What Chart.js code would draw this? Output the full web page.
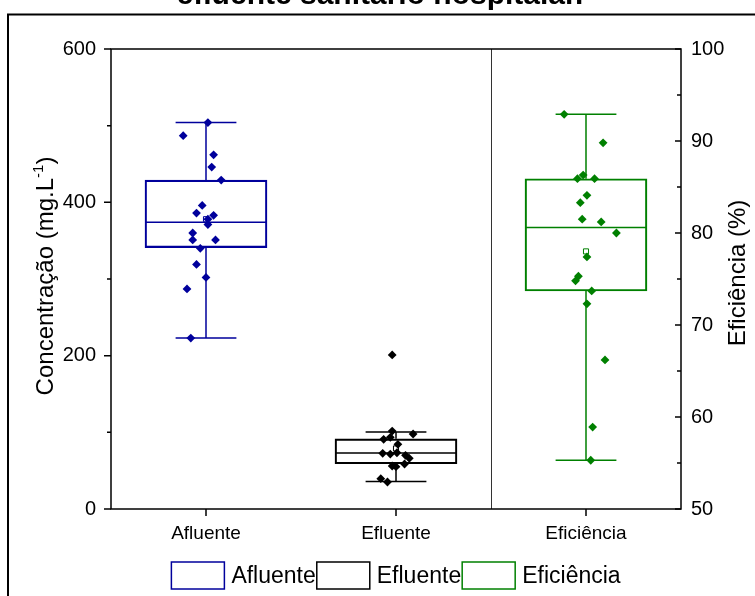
<!DOCTYPE html>
<html>
<head>
<meta charset="utf-8">
<script src="https://cdn.jsdelivr.net/npm/chart.js@4.4.0/dist/chart.umd.min.js"></script>
<style>
    html, body { margin: 0; padding: 0; background: #fff; }
    #wrap { position: relative; width: 755px; height: 596px; overflow: hidden; }
</style>
</head>
<body>
<div id="wrap"><canvas id="chart" width="755" height="596"></canvas></div>
<script>
// ─── DATA ────────────────────────────────────────────────────
const groups      = ['Afluente', 'Efluente', 'Eficiência'];
const groupColors = ['#00009c', '#000000', '#008000'];

// individual samples (value) and their horizontal jitter (category units)
const afluenteValues   = [504, 487, 462, 446, 429, 396, 386, 383, 378, 371, 360, 351, 351, 340, 319, 302, 287, 223];
const afluenteJitter   = [0.01, -0.12, 0.04, 0.03, 0.08, -0.02, -0.05, 0.04, 0.01, 0.01, -0.07, -0.07, 0.05, -0.03, -0.05, 0.0, -0.10, -0.08];
const efluenteValues   = [201, 101.7, 97.8, 90.9, 93.5, 84.4, 72.6, 71.7, 73.4, 70, 66.1, 58.7, 56.1, 55.2, 39.5, 35.2];
const efluenteJitter   = [-0.02, -0.02, 0.09, -0.065, -0.03, 0.01, -0.07, -0.03, 0.005, 0.05, 0.07, 0.045, -0.02, 0.0, -0.08, -0.045];
const eficienciaValues = [92.9, 89.8, 86.3, 85.9, 85.9, 84.1, 83.3, 81.5, 81.2, 80.0, 77.4, 75.3, 74.8, 73.7, 72.3, 66.2, 58.9, 55.3];
const eficienciaJitter = [-0.115, 0.09, -0.015, -0.045, 0.045, 0.005, -0.03, -0.02, 0.08, 0.16, 0.005, -0.04, -0.055, 0.03, 0.005, 0.10, 0.035, 0.025];

// box statistics, one entry per group
const whiskerLow  = [223, 36, 55.3];
const quartile1   = [341, 59, 73.7];
const medians     = [374, 73, 80.6];
const quartile3   = [429, 91.5, 85.9];
const whiskerHigh = [504, 100.5, 92.9];
const means       = [378, 79, 78.0];

// axes
const leftRange  = [0, 600];
const rightRange = [50, 100];

// ─── HELPERS ─────────────────────────────────────────────────
const FONT = '"Liberation Sans", Arial, sans-serif';
const axisOf = i => (i === 2 ? 'y2' : 'y');
const BOX_HALF = 0.32;
const CAP_HALF = 0.16;

const samples = [
    [afluenteValues, afluenteJitter],
    [efluenteValues, efluenteJitter],
    [eficienciaValues, eficienciaJitter]
];

const pointDatasets = samples.map(([vals, jit], i) => ({
    type: 'scatter',
    label: groups[i] + ' pts',
    yAxisID: axisOf(i),
    order: 0,
    data: vals.map((v, k) => ({ x: i + jit[k], y: v })),
    pointStyle: 'rectRot',
    pointRadius: 4.4,
    backgroundColor: groupColors[i],
    borderWidth: 0
}));

const meanDatasets = groups.map((g, i) => ({
    type: 'scatter',
    label: g + ' mean',
    yAxisID: axisOf(i),
    order: 1,
    data: [{ x: i, y: means[i] }],
    pointStyle: 'rect',
    pointRadius: 3.6,
    backgroundColor: '#fff',
    borderColor: groupColors[i],
    borderWidth: 1
}));

const whiskerDatasets = groups.map((g, i) => ({
    type: 'line',
    label: g + ' whiskers',
    yAxisID: axisOf(i),
    order: 2,
    data: [
        { x: i, y: whiskerLow[i] }, { x: i, y: quartile1[i] }, { x: i, y: null },
        { x: i, y: quartile3[i] }, { x: i, y: whiskerHigh[i] }, { x: i, y: null },
        { x: i - CAP_HALF, y: whiskerLow[i] }, { x: i + CAP_HALF, y: whiskerLow[i] }, { x: i, y: null },
        { x: i - CAP_HALF, y: whiskerHigh[i] }, { x: i + CAP_HALF, y: whiskerHigh[i] }, { x: i, y: null },
        { x: i - BOX_HALF, y: medians[i] }, { x: i + BOX_HALF, y: medians[i] }
    ],
    borderColor: groupColors[i],
    borderWidth: 1.5,
    pointRadius: 0,
    spanGaps: false,
    tension: 0,
    fill: false
}));

const boxDatasets = groups.map((g, i) => ({
    type: 'bar',
    label: g,
    yAxisID: axisOf(i),
    order: 3,
    data: [{ x: i, y: [quartile1[i], quartile3[i]] }],
    backgroundColor: 'rgba(0,0,0,0)',
    borderColor: groupColors[i],
    borderWidth: 1.5,
    borderSkipped: false,
    barThickness: 122,
    grouped: false
}));

// ─── DECORATION PLUGIN ───────────────────────────────────────
const decor = {
    id: 'decor',
    afterDraw(chart) {
        const { ctx, chartArea: a, scales } = chart;
        ctx.save();
        ctx.strokeStyle = '#000';
        ctx.fillStyle = '#000';

        // divider between concentration and efficiency
        const xd = Math.round(scales.x.getPixelForValue(1.5)) + 0.5;
        ctx.lineWidth = 1;
        ctx.strokeStyle = '#333';
        ctx.beginPath(); ctx.moveTo(xd, a.top); ctx.lineTo(xd, a.bottom); ctx.stroke();

        // plot frame
        ctx.strokeStyle = '#000';
        ctx.lineWidth = 1.5;
        ctx.strokeRect(a.left, a.top, a.right - a.left, a.bottom - a.top);

        // tick marks
        ctx.beginPath();
        scales.y.ticks.forEach(t => {
            const py = scales.y.getPixelForValue(t.value);
            const len = t.value % 200 === 0 ? 7 : 4;
            ctx.moveTo(a.left - len, py); ctx.lineTo(a.left, py);
        });
        scales.y2.ticks.forEach(t => {
            const py = scales.y2.getPixelForValue(t.value);
            const len = t.value % 10 === 0 ? 6 : 4;
            ctx.moveTo(a.right - len, py); ctx.lineTo(a.right, py);
        });
        scales.x.ticks.forEach(t => {
            const px = scales.x.getPixelForValue(t.value);
            ctx.moveTo(px, a.bottom); ctx.lineTo(px, a.bottom + 7);
        });
        ctx.stroke();

        // axis titles
        const cy = (a.top + a.bottom) / 2 - 3;
        ctx.textBaseline = 'alphabetic';
        ctx.save();
        ctx.translate(53, cy);
        ctx.rotate(-Math.PI / 2);
        const main = 'Concentração (mg.L', sup = '-1', tail = ')';
        ctx.font = '24px ' + FONT;
        const wMain = ctx.measureText(main).width;
        const wTail = ctx.measureText(tail).width;
        ctx.font = '15px ' + FONT;
        const wSup = ctx.measureText(sup).width;
        let sx = -(wMain + wSup + wTail) / 2;
        ctx.textAlign = 'left';
        ctx.font = '24px ' + FONT;
        ctx.fillText(main, sx, 0);
        ctx.font = '15px ' + FONT;
        ctx.fillText(sup, sx + wMain, -10);
        ctx.font = '24px ' + FONT;
        ctx.fillText(tail, sx + wMain + wSup, 0);
        ctx.restore();

        ctx.save();
        ctx.translate(745, cy - 3);
        ctx.rotate(-Math.PI / 2);
        ctx.font = '24px ' + FONT;
        ctx.textAlign = 'center';
        ctx.fillText('Eficiência (%)', 0, 0);
        ctx.restore();

        // clipped title from the page above
        ctx.font = 'bold 30px ' + FONT;
        ctx.textAlign = 'center';
        ctx.fillText('efluente sanitário hospitalar.', 380, 4);

        // outer frame
        ctx.lineWidth = 2;
        ctx.strokeStyle = '#000';
        ctx.strokeRect(8, 14.5, 900, 900);

        // legend
        ctx.font = '23px ' + FONT;
        ctx.textAlign = 'left';
        ctx.textBaseline = 'middle';
        const bw = 53, bh = 27, gap = 7;
        const widths = groups.map(g => ctx.measureText(g).width);
        const total = widths.reduce((s, w) => s + bw + gap + w, 0) + (groups.length - 1);
        let lx = (a.left + a.right) / 2 - total / 2;
        const ly = 562;
        groups.forEach((g, i) => {
            ctx.lineWidth = 1.5;
            ctx.strokeStyle = groupColors[i];
            ctx.strokeRect(lx, ly, bw, bh);
            ctx.fillStyle = '#000';
            ctx.fillText(g, lx + bw + gap, ly + bh / 2 + 1);
            lx += bw + gap + widths[i] + 1;
        });
        ctx.restore();
    }
};

// ─── CHART ───────────────────────────────────────────────────
new Chart(document.getElementById('chart'), {
    type: 'scatter',
    data: { datasets: [...boxDatasets, ...whiskerDatasets, ...meanDatasets, ...pointDatasets] },
    options: {
        responsive: false,
        devicePixelRatio: 1,
        animation: false,
        events: [],
        layout: { padding: { top: 49, left: 0, right: 0, bottom: 0 } },
        plugins: { legend: { display: false }, tooltip: { enabled: false }, title: { display: false } },
        scales: {
            x: {
                type: 'linear',
                min: -0.5, max: 2.5,
                offset: false,
                afterBuildTicks: s => { s.ticks = groups.map((g, i) => ({ value: i })); },
                afterFit: s => { s.height = 87; },
                ticks: {
                    callback: v => groups[Math.round(v)],
                    color: '#000', font: { family: FONT, size: 19 },
                    padding: 6, maxRotation: 0, autoSkip: false
                },
                grid: { display: true, drawOnChartArea: false, drawTicks: true, tickLength: 7, tickColor: 'rgba(0,0,0,0)' },
                border: { display: false }
            },
            y: {
                type: 'linear', position: 'left',
                min: leftRange[0], max: leftRange[1],
                afterFit: s => { s.width = 111; },
                ticks: {
                    stepSize: 100, autoSkip: false,
                    callback: v => (v % 200 === 0 ? String(v) : ''),
                    color: '#000', font: { family: FONT, size: 20 }, padding: 8
                },
                grid: { display: true, drawOnChartArea: false, drawTicks: true, tickLength: 7, tickColor: 'rgba(0,0,0,0)' },
                border: { display: false }
            },
            y2: {
                type: 'linear', position: 'right',
                min: rightRange[0], max: rightRange[1],
                afterFit: s => { s.width = 74; },
                ticks: {
                    stepSize: 5, autoSkip: false,
                    callback: v => (v % 10 === 0 ? String(v) : ''),
                    color: '#000', font: { family: FONT, size: 20 }, padding: 6
                },
                grid: { display: true, drawOnChartArea: false, drawTicks: true, tickLength: 4, tickColor: 'rgba(0,0,0,0)' },
                border: { display: false }
            }
        }
    },
    plugins: [decor]
});
</script>
</body>
</html>
